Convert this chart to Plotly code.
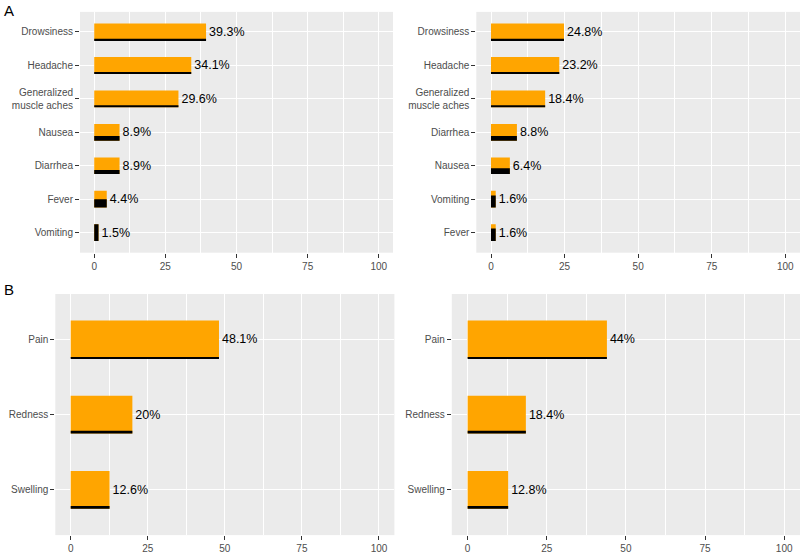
import plotly.graph_objects as go

# ---- data (bottom-to-top order as displayed) ----
a1_cats = ["Vomiting", "Fever", "Diarrhea", "Nausea", "Generalized<br>muscle aches", "Headache", "Drowsiness"]
a1_vals = [1.5, 4.4, 8.9, 8.9, 29.6, 34.1, 39.3]
a1_black = [1.0, 0.5, 0.25, 0.28, 0.12, 0.1, 0.09]

a2_cats = ["Fever", "Vomiting", "Nausea", "Diarrhea", "Generalized<br>muscle aches", "Headache", "Drowsiness"]
a2_vals = [1.6, 1.6, 6.4, 8.8, 18.4, 23.2, 24.8]
a2_black = [0.75, 0.72, 0.35, 0.28, 0.12, 0.1, 0.09]

b1_cats = ["Swelling", "Redness", "Pain"]
b1_vals = [12.6, 20, 48.1]
b1_black = [0.07, 0.07, 0.03]

b2_cats = ["Swelling", "Redness", "Pain"]
b2_vals = [12.8, 18.4, 44]
b2_black = [0.07, 0.07, 0.03]

x_ticks = [0, 25, 50, 75, 100]

ORANGE = "#FFA500"
BAR_W = 0.5
FONT = "Liberation Sans, Arial, sans-serif"

panels = [
    (a1_cats, a1_vals, a1_black, [80/800, 393/800], [1-255/554, 1-12/554]),
    (a2_cats, a2_vals, a2_black, [476.3/800, 1.0], [1-255/554, 1-12/554]),
    (b1_cats, b1_vals, b1_black, [55.3/800, 394.4/800], [1-540/554, 1-296.7/554]),
    (b2_cats, b2_vals, b2_black, [451.8/800, 1.0], [1-540/554, 1-296.7/554]),
]

fig = go.Figure()
layout = dict(
    width=800, height=554,
    margin=dict(l=0, r=0, t=0, b=0),
    paper_bgcolor="white",
    plot_bgcolor="#EBEBEB",
    barmode="overlay",
    showlegend=False,
    font=dict(family=FONT),
)

for i, (cats, vals, blk, xd, yd) in enumerate(panels):
    n = i + 1
    xa = "x" if n == 1 else f"x{n}"
    ya = "y" if n == 1 else f"y{n}"
    fig.add_trace(go.Bar(
        y=cats, x=vals, orientation="h",
        width=BAR_W, offset=-BAR_W/2,
        marker=dict(color=ORANGE, line=dict(width=0)),
        text=[f"{v:g}%" for v in vals], textposition="outside",
        textfont=dict(size=12.5, color="black", family=FONT),
        constraintext="none", cliponaxis=False,
        xaxis=xa, yaxis=ya, hoverinfo="skip",
    ))
    fig.add_trace(go.Bar(
        y=cats, x=vals, orientation="h",
        width=[BAR_W * f for f in blk], offset=-BAR_W/2,
        marker=dict(color="black", line=dict(width=0)),
        xaxis=xa, yaxis=ya, hoverinfo="skip",
    ))
    xkey = "xaxis" if n == 1 else f"xaxis{n}"
    ykey = "yaxis" if n == 1 else f"yaxis{n}"
    layout[xkey] = dict(
        domain=xd, anchor=ya, range=[-5, 105],
        tickmode="array", tickvals=x_ticks, ticktext=[str(t) for t in x_ticks],
        ticks="outside", ticklen=4, tickwidth=1, tickcolor="#333333",
        tickfont=dict(size=10, color="#4D4D4D", family=FONT),
        showgrid=True, gridcolor="white", gridwidth=1.1,
        minor=dict(tickmode="array", tickvals=[12.5, 37.5, 62.5, 87.5],
                   showgrid=True, gridcolor="white", gridwidth=0.55, ticks=""),
        zeroline=False, showline=False, fixedrange=True,
    )
    layout[ykey] = dict(
        domain=yd, anchor=xa, type="category",
        categoryorder="array", categoryarray=cats,
        range=[-0.6, len(cats) - 0.4],
        ticks="outside", ticklen=4, tickwidth=1, tickcolor="#333333",
        tickfont=dict(size=10, color="#4D4D4D", family=FONT),
        showgrid=True, gridcolor="white", gridwidth=1.1,
        zeroline=False, showline=False, fixedrange=True,
    )

layout["annotations"] = [
    dict(text="A", x=2/800, y=1-0.5/554, xref="paper", yref="paper",
         xanchor="left", yanchor="top", showarrow=False,
         font=dict(size=15, color="black", family=FONT)),
    dict(text="B", x=2/800, y=1-282/554, xref="paper", yref="paper",
         xanchor="left", yanchor="top", showarrow=False,
         font=dict(size=15, color="black", family=FONT)),
]

fig.update_layout(**layout)
fig.write_html("out.html")
